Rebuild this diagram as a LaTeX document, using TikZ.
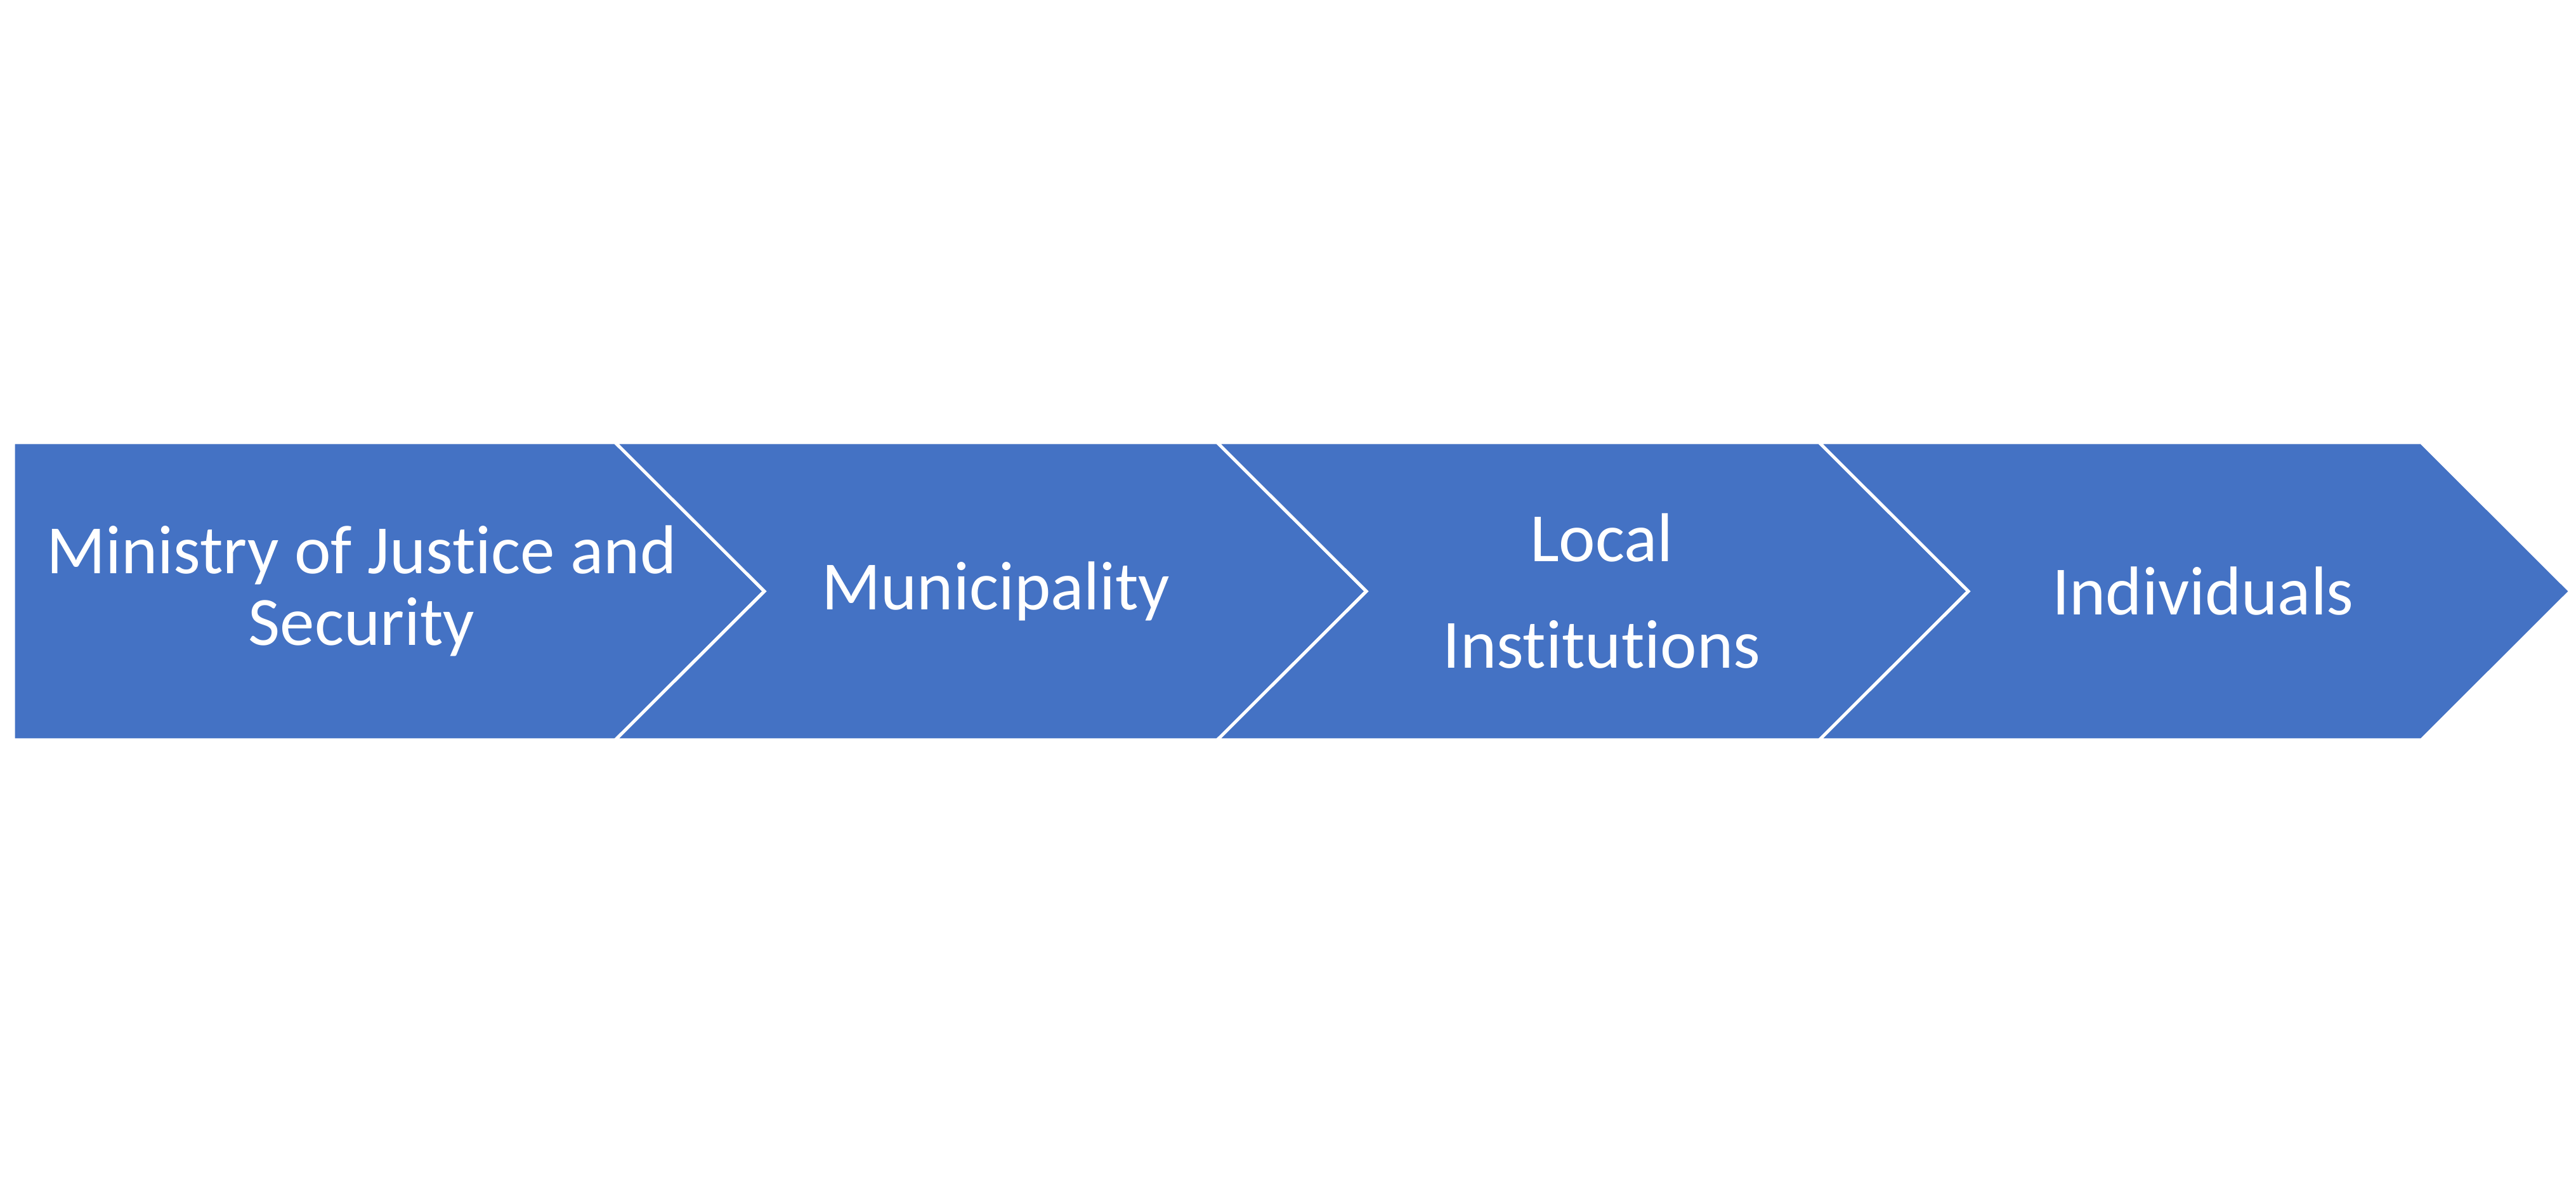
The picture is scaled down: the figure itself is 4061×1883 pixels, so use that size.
\documentclass[tikz,border=0pt]{standalone}
\usepackage{fontspec}
\setmainfont{Carlito}[Ligatures={NoCommon}]
\definecolor{chevronblue}{HTML}{4472C4}
\tikzset{
	chevron/.style={fill=chevronblue, draw=white, line width=0.05cm, line join=miter},
	chevtext/.style={text=white, align=center, inner sep=0pt, font=\fontsize{31}{32}\selectfont}
}

\begin{document}
\begin{tikzpicture}[x=0.01cm, y=-0.01cm]
	
	\useasboundingbox (0,0) rectangle (4061,1883);
	
	% First step (flat left edge)
	\draw[chevron] (21,698) -- (970,698) -- (1205,932.5) -- (970,1167) -- (21,1167) -- cycle;
	
	% Following steps (notched left edge)
	\foreach \x in {970,1919,2868}
		\draw[chevron] (\x,698) -- ({\x+949},698) -- ({\x+1184},932.5) -- ({\x+949},1167) -- (\x,1167) -- ({\x+235},932.5) -- cycle;
	
	% Step labels
	\node[chevtext] (ministry) at (570,932) {Ministry of Justice and\\Security};
	\node[chevtext] (municipality) at (1570,932) {Municipality};
	\node[chevtext, font=\fontsize{31}{48}\selectfont] (institutions) at (2525,932) {Local\\Institutions};
	\node[chevtext] (individuals) at (3473,932) {Individuals};
	
\end{tikzpicture}
\end{document}
